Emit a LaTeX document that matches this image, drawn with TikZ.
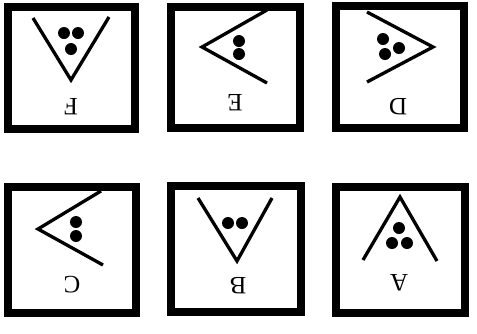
\documentclass[tikz,border=0pt]{standalone}
\usepackage{fontspec}
\setmainfont{Liberation Serif}
\begin{document}
\begin{tikzpicture}[x=1pt,y=-1pt,
  frame/.style={line width=8pt},
  vee/.style={line width=3.3pt},
  dot/.style={fill=black},
  lbl/.style={rotate=180,font=\fontsize{25}{25}\selectfont,inner sep=0pt}]
\useasboundingbox (0,0) rectangle (477,333);
% frames
\draw[frame] (8,7) rectangle (135,129);
\draw[frame] (171,7) rectangle (300,128);
\draw[frame] (336,6) rectangle (464,128);
\draw[frame] (8,187) rectangle (136,313);
\draw[frame] (171,186) rectangle (301,312);
\draw[frame] (336,187) rectangle (465,313);
% F
\draw[vee] (33,18) -- (71,80) -- (109,17);
\fill[dot] (64,33) circle (6) (78,33) circle (6) (71,49) circle (6);
\node[lbl] (F) at (71,107) {F};
% E
\draw[vee] (267,10) -- (202,47) -- (267,83);
\fill[dot] (239,41) circle (6) (239,54) circle (6);
\node[lbl] (E) at (235,103) {E};
% D
\draw[vee] (367,12) -- (433,47) -- (367,82);
\fill[dot] (383,39) circle (6) (399,48) circle (6) (385,54) circle (6);
\node[lbl] (D) at (398,107) {D};
% C
\draw[vee] (101,191) -- (38,229) -- (103,265);
\fill[dot] (76,222) circle (6) (76,236) circle (6);
\node[lbl] (C) at (72,285) {C};
% B
\draw[vee] (198,198) -- (237,261) -- (272,198);
\fill[dot] (228,223) circle (6) (242,223) circle (6);
\node[lbl] (B) at (238,286) {B};
% A
\draw[vee] (363,260) -- (400,197) -- (437,261);
\fill[dot] (399,228) circle (6) (392,243) circle (6) (407,243) circle (6);
\node[lbl] (A) at (399,283) {A};
\end{tikzpicture}
\end{document}
